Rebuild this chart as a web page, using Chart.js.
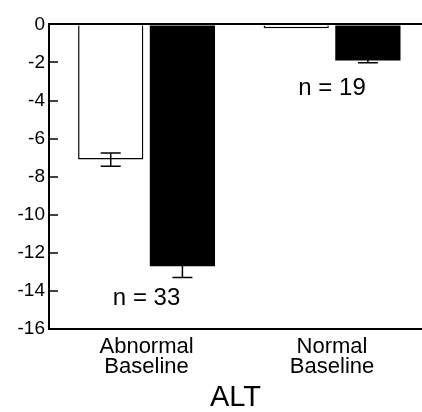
<!DOCTYPE html>
<html>
<head>
<meta charset="utf-8">
<script src="https://cdn.jsdelivr.net/npm/chart.js@4"></script>
<style>
  html, body { margin: 0; padding: 0; background: #fff; }
  #wrap { width: 422px; height: 412px; position: relative; }
</style>
</head>
<body>
<div id="wrap"><canvas id="alt"></canvas></div>
<script>
// values
const categories = [["Abnormal", "Baseline"], ["Normal", "Baseline"]];
const whiteValues = [-7.1, -0.2];
const whiteErrors = [0.35, 0];
const blackValues = [-12.7, -1.9];
const blackErrors = [0.6, 0.12];
const nLabels = ["n = 33", "n = 19"];
const nLabelY = [-14.4, -3.35];
const yTicks = [0, -2, -4, -6, -8, -10, -12, -14, -16];

const FONT = "'Liberation Sans', Arial, Helvetica, sans-serif";

function points(vals) {
    return vals.map((v, i) => ({ x: i, y: v }));
}

// error bars + "n =" notes, placed through the chart's own scales
const extras = {
    id: "extras",
    afterDatasetsDraw(chart) {
        const ctx = chart.ctx;
        const y = chart.scales.y;
        const x = chart.scales.x;
        const errs = [whiteErrors, blackErrors];
        ctx.save();
        ctx.strokeStyle = "#000";
        ctx.lineWidth = 1.5;
        chart.data.datasets.forEach((ds, d) => {
            const meta = chart.getDatasetMeta(d);
            meta.data.forEach((bar, i) => {
                const e = errs[d][i];
                if (!e) return;
                const v = ds.data[i].y;
                const y1 = y.getPixelForValue(v + e);
                const y2 = y.getPixelForValue(v - e);
                const cx = bar.x;
                ctx.beginPath();
                ctx.moveTo(cx, y1);
                ctx.lineTo(cx, y2);
                ctx.moveTo(cx - 10, y1);
                ctx.lineTo(cx + 10, y1);
                ctx.moveTo(cx - 10, y2);
                ctx.lineTo(cx + 10, y2);
                ctx.stroke();
            });
        });
        ctx.fillStyle = "#000";
        ctx.font = "24px " + FONT;
        ctx.textAlign = "center";
        ctx.textBaseline = "middle";
        nLabels.forEach((t, i) => {
            ctx.fillText(t, x.getPixelForValue(i), y.getPixelForValue(nLabelY[i]));
        });
        ctx.restore();
    },
};

new Chart(document.getElementById("alt"), {
    type: "bar",
    data: {
        datasets: [
            {
                label: "white",
                data: points(whiteValues),
                backgroundColor: "#fff",
                borderColor: "#000",
                borderWidth: 1.5,
            },
            {
                label: "black",
                data: points(blackValues),
                backgroundColor: "#000",
                borderColor: "#000",
                borderWidth: 0,
            },
        ],
    },
    options: {
        responsive: true,
        maintainAspectRatio: false,
        animation: false,
        categoryPercentage: 0.773,
        barPercentage: 0.91,
        layout: { padding: { top: 14, right: 0, bottom: 0, left: 0 } },
        plugins: {
            legend: { display: false },
            tooltip: { enabled: false },
        },
        scales: {
            x: {
                type: "linear",
                min: -0.526,
                max: 1.485,
                offset: false,
                afterFit(scale) {
                    scale.height = 83;
                },
                border: { display: true, color: "#000", width: 2 },
                grid: { display: false, drawTicks: false, offset: false },
                ticks: {
                    stepSize: 1,
                    includeBounds: false,
                    autoSkip: false,
                    maxRotation: 0,
                    padding: 8,
                    color: "#000",
                    font: { family: FONT, size: 22, lineHeight: "20px" },
                    callback: (v) => (Number.isInteger(v) && categories[v] ? categories[v] : ""),
                },
                title: {
                    display: true,
                    text: "ALT",
                    color: "#000",
                    font: { family: FONT, size: 29, lineHeight: 1 },
                    padding: { top: 0, bottom: 0 },
                },
            },
            y: {
                min: -16,
                max: 0,
                afterFit(scale) {
                    scale.width = 49;
                },
                afterBuildTicks(scale) {
                    scale.ticks = yTicks.map((v) => ({ value: v }));
                },
                border: { display: true, color: "#000", width: 2 },
                grid: {
                    color: (c) => (c.tick && c.tick.value === 0 ? "#000" : "rgba(0,0,0,0)"),
                    lineWidth: 2,
                    tickColor: "#000",
                    tickWidth: 1.5,
                    tickLength: -9,
                },
                ticks: {
                    padding: 13,
                    color: "#000",
                    font: { family: FONT, size: 19 },
                },
            },
        },
    },
    plugins: [extras],
});
</script>
</body>
</html>
